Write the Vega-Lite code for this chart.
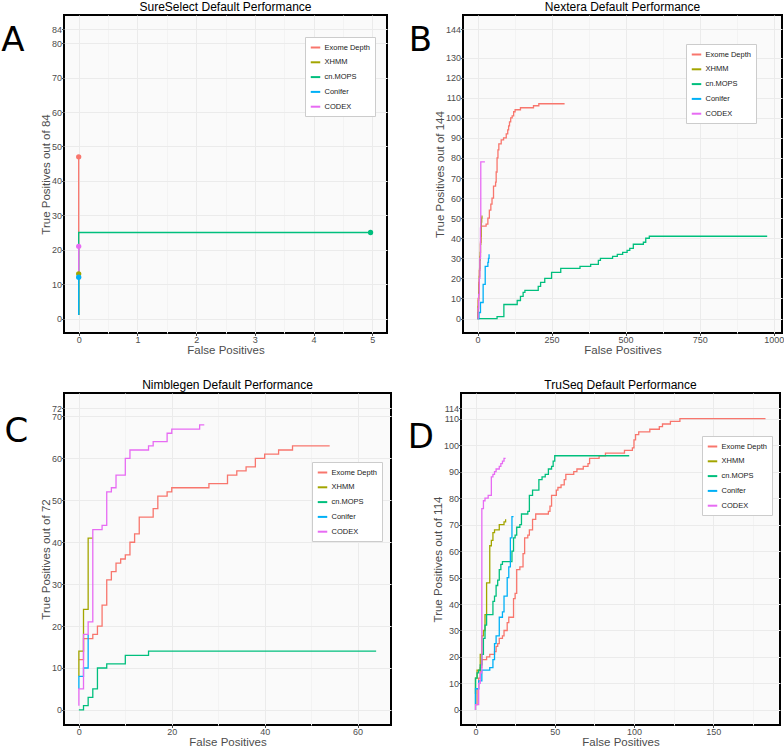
{
"$schema":"https://vega.github.io/schema/vega-lite/v6.json",
"padding":{"left":0,"top":0,"right":0,"bottom":0},
"background":"white",
"config":{
 "font":"Liberation Sans",
 "view":{"stroke":"black","strokeWidth":2,"fill":"#FAFAFA"},
 "title":{"fontSize":12,"fontWeight":"normal","color":"black","offset":1},
 "axis":{"labelColor":"#4D4D4D","labelFontSize":9,"titleColor":"#4D4D4D","titleFontSize":11.5,"titleFontWeight":"normal","tickColor":"#4D4D4D","tickSize":2.5,"domain":false,"gridColor":"#EBEBEB","labelPadding":0,"titlePadding":0,"labelOverlap":false,"labelFlush":false,"format":"d","tickCount":100},
 "legend":{"orient":"none","fillColor":"white","strokeColor":"#CCCCCC","padding":4.5,"symbolType":"stroke","symbolStrokeWidth":2,"symbolSize":90,"labelFontSize":7.5,"labelColor":"#1A1A1A","rowPadding":4.8,"labelOffset":3}
},
"datasets":{
"A":[
{"method":"Exome Depth","fp":0,"tp":1},{"method":"Exome Depth","fp":0,"tp":47},
{"method":"XHMM","fp":0,"tp":1},{"method":"XHMM","fp":0,"tp":13},
{"method":"cn.MOPS","fp":0,"tp":1},{"method":"cn.MOPS","fp":0,"tp":25},{"method":"cn.MOPS","fp":5,"tp":25},
{"method":"Conifer","fp":0,"tp":1},{"method":"Conifer","fp":0,"tp":12},
{"method":"CODEX","fp":0,"tp":12},{"method":"CODEX","fp":0,"tp":21}],
"Apts":[
{"method":"Exome Depth","fp":0,"tp":47},{"method":"XHMM","fp":0,"tp":13},{"method":"cn.MOPS","fp":4.97,"tp":25},{"method":"Conifer","fp":0,"tp":12},{"method":"CODEX","fp":0,"tp":21}],
"B":[
{"method":"Exome Depth","fp":0,"tp":0},{"method":"Exome Depth","fp":1,"tp":3},{"method":"Exome Depth","fp":2,"tp":10},{"method":"Exome Depth","fp":4,"tp":18},{"method":"Exome Depth","fp":6,"tp":24},{"method":"Exome Depth","fp":8,"tp":31},{"method":"Exome Depth","fp":10,"tp":38},{"method":"Exome Depth","fp":12,"tp":46},{"method":"Exome Depth","fp":29,"tp":47},{"method":"Exome Depth","fp":35,"tp":50},{"method":"Exome Depth","fp":40,"tp":54},{"method":"Exome Depth","fp":45,"tp":57},{"method":"Exome Depth","fp":49,"tp":60},{"method":"Exome Depth","fp":54,"tp":66},{"method":"Exome Depth","fp":61,"tp":68},{"method":"Exome Depth","fp":63,"tp":73},{"method":"Exome Depth","fp":66,"tp":80},{"method":"Exome Depth","fp":69,"tp":84},{"method":"Exome Depth","fp":72,"tp":87},{"method":"Exome Depth","fp":80,"tp":89},{"method":"Exome Depth","fp":88,"tp":90},{"method":"Exome Depth","fp":97,"tp":92},{"method":"Exome Depth","fp":102,"tp":94},{"method":"Exome Depth","fp":105,"tp":96},{"method":"Exome Depth","fp":108,"tp":98},{"method":"Exome Depth","fp":112,"tp":100},{"method":"Exome Depth","fp":117,"tp":101},{"method":"Exome Depth","fp":122,"tp":103},{"method":"Exome Depth","fp":127,"tp":104},{"method":"Exome Depth","fp":145,"tp":105},{"method":"Exome Depth","fp":189,"tp":106},{"method":"Exome Depth","fp":207,"tp":107},{"method":"Exome Depth","fp":294,"tp":107},
{"method":"XHMM","fp":0,"tp":0},{"method":"XHMM","fp":1,"tp":3},{"method":"XHMM","fp":2,"tp":6},{"method":"XHMM","fp":3,"tp":9},{"method":"XHMM","fp":4,"tp":13},{"method":"XHMM","fp":5,"tp":17},{"method":"XHMM","fp":6,"tp":21},{"method":"XHMM","fp":7,"tp":25},{"method":"XHMM","fp":8,"tp":29},{"method":"XHMM","fp":9,"tp":33},{"method":"XHMM","fp":10,"tp":37},{"method":"XHMM","fp":11,"tp":41},{"method":"XHMM","fp":12,"tp":45},{"method":"XHMM","fp":13,"tp":48},{"method":"XHMM","fp":14,"tp":50},{"method":"XHMM","fp":15,"tp":51},{"method":"XHMM","fp":17,"tp":51},
{"method":"cn.MOPS","fp":0,"tp":0},{"method":"cn.MOPS","fp":66,"tp":1},{"method":"cn.MOPS","fp":89,"tp":7},{"method":"cn.MOPS","fp":134,"tp":9},{"method":"cn.MOPS","fp":145,"tp":11},{"method":"cn.MOPS","fp":154,"tp":13},{"method":"cn.MOPS","fp":160,"tp":14},{"method":"cn.MOPS","fp":205,"tp":16},{"method":"cn.MOPS","fp":213,"tp":18},{"method":"cn.MOPS","fp":227,"tp":20},{"method":"cn.MOPS","fp":250,"tp":23},{"method":"cn.MOPS","fp":281,"tp":25},{"method":"cn.MOPS","fp":346,"tp":26},{"method":"cn.MOPS","fp":382,"tp":27},{"method":"cn.MOPS","fp":408,"tp":29},{"method":"cn.MOPS","fp":415,"tp":30},{"method":"cn.MOPS","fp":456,"tp":31},{"method":"cn.MOPS","fp":472,"tp":32},{"method":"cn.MOPS","fp":490,"tp":33},{"method":"cn.MOPS","fp":505,"tp":34},{"method":"cn.MOPS","fp":514,"tp":35},{"method":"cn.MOPS","fp":526,"tp":37},{"method":"cn.MOPS","fp":560,"tp":38},{"method":"cn.MOPS","fp":568,"tp":40},{"method":"cn.MOPS","fp":580,"tp":41},{"method":"cn.MOPS","fp":978,"tp":41},
{"method":"Conifer","fp":0,"tp":0},{"method":"Conifer","fp":5,"tp":3},{"method":"Conifer","fp":10,"tp":8},{"method":"Conifer","fp":19,"tp":17},{"method":"Conifer","fp":26,"tp":26},{"method":"Conifer","fp":35,"tp":28},{"method":"Conifer","fp":37,"tp":30},{"method":"Conifer","fp":39,"tp":32},
{"method":"CODEX","fp":0,"tp":0},{"method":"CODEX","fp":2,"tp":5},{"method":"CODEX","fp":4,"tp":12},{"method":"CODEX","fp":6,"tp":20},{"method":"CODEX","fp":8,"tp":30},{"method":"CODEX","fp":10,"tp":45},{"method":"CODEX","fp":11,"tp":78},{"method":"CODEX","fp":25,"tp":78}],
"C":[
{"method":"Exome Depth","fp":0,"tp":12},{"method":"Exome Depth","fp":1,"tp":17},{"method":"Exome Depth","fp":3,"tp":18},{"method":"Exome Depth","fp":4,"tp":20},{"method":"Exome Depth","fp":5,"tp":25},{"method":"Exome Depth","fp":6,"tp":31},{"method":"Exome Depth","fp":7,"tp":33},{"method":"Exome Depth","fp":8,"tp":35},{"method":"Exome Depth","fp":9,"tp":36},{"method":"Exome Depth","fp":10,"tp":37},{"method":"Exome Depth","fp":11,"tp":40},{"method":"Exome Depth","fp":12,"tp":42},{"method":"Exome Depth","fp":13,"tp":46},{"method":"Exome Depth","fp":16,"tp":48},{"method":"Exome Depth","fp":17,"tp":51},{"method":"Exome Depth","fp":19,"tp":52},{"method":"Exome Depth","fp":20,"tp":53},{"method":"Exome Depth","fp":28,"tp":54},{"method":"Exome Depth","fp":32,"tp":56},{"method":"Exome Depth","fp":34,"tp":57},{"method":"Exome Depth","fp":36,"tp":58},{"method":"Exome Depth","fp":38,"tp":60},{"method":"Exome Depth","fp":40,"tp":61},{"method":"Exome Depth","fp":43,"tp":62},{"method":"Exome Depth","fp":46,"tp":63},{"method":"Exome Depth","fp":54,"tp":63},
{"method":"XHMM","fp":0,"tp":8},{"method":"XHMM","fp":0,"tp":14},{"method":"XHMM","fp":1,"tp":24},{"method":"XHMM","fp":2,"tp":41},{"method":"XHMM","fp":3,"tp":41},
{"method":"cn.MOPS","fp":0,"tp":0},{"method":"cn.MOPS","fp":1,"tp":1},{"method":"cn.MOPS","fp":2,"tp":3},{"method":"cn.MOPS","fp":3,"tp":5},{"method":"cn.MOPS","fp":4,"tp":10},{"method":"cn.MOPS","fp":6,"tp":11},{"method":"cn.MOPS","fp":10,"tp":13},{"method":"cn.MOPS","fp":15,"tp":14},{"method":"cn.MOPS","fp":64,"tp":14},
{"method":"Conifer","fp":0,"tp":5},{"method":"Conifer","fp":0,"tp":8},{"method":"Conifer","fp":1,"tp":10},{"method":"Conifer","fp":2,"tp":18},
{"method":"CODEX","fp":0,"tp":1},{"method":"CODEX","fp":0,"tp":5},{"method":"CODEX","fp":1,"tp":18},{"method":"CODEX","fp":2,"tp":21},{"method":"CODEX","fp":3,"tp":43},{"method":"CODEX","fp":5,"tp":44},{"method":"CODEX","fp":6,"tp":52},{"method":"CODEX","fp":7,"tp":53},{"method":"CODEX","fp":8,"tp":56},{"method":"CODEX","fp":10,"tp":60},{"method":"CODEX","fp":11,"tp":62},{"method":"CODEX","fp":15,"tp":63},{"method":"CODEX","fp":16,"tp":64},{"method":"CODEX","fp":19,"tp":66},{"method":"CODEX","fp":20,"tp":67},{"method":"CODEX","fp":26,"tp":68},{"method":"CODEX","fp":27,"tp":68}],
"D":[
{"method":"Exome Depth","fp":0,"tp":2},{"method":"Exome Depth","fp":1,"tp":8},{"method":"Exome Depth","fp":2,"tp":12},{"method":"Exome Depth","fp":3,"tp":16},{"method":"Exome Depth","fp":4,"tp":19},{"method":"Exome Depth","fp":7,"tp":20},{"method":"Exome Depth","fp":9,"tp":21},{"method":"Exome Depth","fp":12,"tp":22},{"method":"Exome Depth","fp":13,"tp":24},{"method":"Exome Depth","fp":14,"tp":25},{"method":"Exome Depth","fp":15,"tp":27},{"method":"Exome Depth","fp":17,"tp":28},{"method":"Exome Depth","fp":18,"tp":30},{"method":"Exome Depth","fp":20,"tp":33},{"method":"Exome Depth","fp":21,"tp":35},{"method":"Exome Depth","fp":24,"tp":42},{"method":"Exome Depth","fp":25,"tp":44},{"method":"Exome Depth","fp":26,"tp":53},{"method":"Exome Depth","fp":28,"tp":54},{"method":"Exome Depth","fp":30,"tp":59},{"method":"Exome Depth","fp":31,"tp":65},{"method":"Exome Depth","fp":33,"tp":66},{"method":"Exome Depth","fp":34,"tp":68},{"method":"Exome Depth","fp":36,"tp":72},{"method":"Exome Depth","fp":38,"tp":74},{"method":"Exome Depth","fp":46,"tp":75},{"method":"Exome Depth","fp":47,"tp":77},{"method":"Exome Depth","fp":48,"tp":81},{"method":"Exome Depth","fp":51,"tp":83},{"method":"Exome Depth","fp":52,"tp":84},{"method":"Exome Depth","fp":54,"tp":85},{"method":"Exome Depth","fp":56,"tp":87},{"method":"Exome Depth","fp":57,"tp":89},{"method":"Exome Depth","fp":62,"tp":90},{"method":"Exome Depth","fp":64,"tp":91},{"method":"Exome Depth","fp":68,"tp":92},{"method":"Exome Depth","fp":71,"tp":93},{"method":"Exome Depth","fp":72,"tp":95},{"method":"Exome Depth","fp":78,"tp":96},{"method":"Exome Depth","fp":82,"tp":97},{"method":"Exome Depth","fp":94,"tp":98},{"method":"Exome Depth","fp":99,"tp":99},{"method":"Exome Depth","fp":100,"tp":102},{"method":"Exome Depth","fp":101,"tp":104},{"method":"Exome Depth","fp":103,"tp":105},{"method":"Exome Depth","fp":110,"tp":106},{"method":"Exome Depth","fp":116,"tp":107},{"method":"Exome Depth","fp":118,"tp":108},{"method":"Exome Depth","fp":123,"tp":109},{"method":"Exome Depth","fp":129,"tp":110},{"method":"Exome Depth","fp":183,"tp":110},
{"method":"XHMM","fp":0,"tp":6},{"method":"XHMM","fp":0,"tp":12},{"method":"XHMM","fp":1,"tp":15},{"method":"XHMM","fp":3,"tp":21},{"method":"XHMM","fp":4,"tp":28},{"method":"XHMM","fp":5,"tp":30},{"method":"XHMM","fp":6,"tp":36},{"method":"XHMM","fp":7,"tp":48},{"method":"XHMM","fp":9,"tp":62},{"method":"XHMM","fp":10,"tp":64},{"method":"XHMM","fp":11,"tp":67},{"method":"XHMM","fp":12,"tp":68},{"method":"XHMM","fp":15,"tp":70},{"method":"XHMM","fp":18,"tp":71},{"method":"XHMM","fp":19,"tp":72},
{"method":"cn.MOPS","fp":0,"tp":0},{"method":"cn.MOPS","fp":0,"tp":12},{"method":"cn.MOPS","fp":1,"tp":14},{"method":"cn.MOPS","fp":2,"tp":15},{"method":"cn.MOPS","fp":3,"tp":17},{"method":"cn.MOPS","fp":4,"tp":21},{"method":"cn.MOPS","fp":5,"tp":27},{"method":"cn.MOPS","fp":6,"tp":32},{"method":"cn.MOPS","fp":7,"tp":36},{"method":"cn.MOPS","fp":11,"tp":41},{"method":"cn.MOPS","fp":12,"tp":43},{"method":"cn.MOPS","fp":13,"tp":47},{"method":"cn.MOPS","fp":14,"tp":49},{"method":"cn.MOPS","fp":15,"tp":53},{"method":"cn.MOPS","fp":16,"tp":55},{"method":"cn.MOPS","fp":17,"tp":56},{"method":"cn.MOPS","fp":23,"tp":60},{"method":"cn.MOPS","fp":24,"tp":65},{"method":"cn.MOPS","fp":25,"tp":66},{"method":"cn.MOPS","fp":26,"tp":69},{"method":"cn.MOPS","fp":28,"tp":70},{"method":"cn.MOPS","fp":29,"tp":74},{"method":"cn.MOPS","fp":33,"tp":75},{"method":"cn.MOPS","fp":34,"tp":81},{"method":"cn.MOPS","fp":36,"tp":83},{"method":"cn.MOPS","fp":40,"tp":87},{"method":"cn.MOPS","fp":42,"tp":88},{"method":"cn.MOPS","fp":44,"tp":89},{"method":"cn.MOPS","fp":46,"tp":91},{"method":"cn.MOPS","fp":48,"tp":92},{"method":"cn.MOPS","fp":49,"tp":94},{"method":"cn.MOPS","fp":50,"tp":96},{"method":"cn.MOPS","fp":97,"tp":96},
{"method":"Conifer","fp":0,"tp":2},{"method":"Conifer","fp":0,"tp":8},{"method":"Conifer","fp":2,"tp":11},{"method":"Conifer","fp":4,"tp":15},{"method":"Conifer","fp":9,"tp":16},{"method":"Conifer","fp":11,"tp":19},{"method":"Conifer","fp":12,"tp":25},{"method":"Conifer","fp":13,"tp":28},{"method":"Conifer","fp":15,"tp":35},{"method":"Conifer","fp":17,"tp":37},{"method":"Conifer","fp":18,"tp":43},{"method":"Conifer","fp":20,"tp":50},{"method":"Conifer","fp":21,"tp":54},{"method":"Conifer","fp":22,"tp":65},{"method":"Conifer","fp":23,"tp":73},{"method":"Conifer","fp":24,"tp":73},
{"method":"CODEX","fp":0,"tp":0},{"method":"CODEX","fp":0,"tp":2},{"method":"CODEX","fp":2,"tp":10},{"method":"CODEX","fp":3,"tp":14},{"method":"CODEX","fp":4,"tp":76},{"method":"CODEX","fp":5,"tp":79},{"method":"CODEX","fp":6,"tp":80},{"method":"CODEX","fp":8,"tp":81},{"method":"CODEX","fp":10,"tp":82},{"method":"CODEX","fp":10,"tp":88},{"method":"CODEX","fp":11,"tp":89},{"method":"CODEX","fp":12,"tp":90},{"method":"CODEX","fp":13,"tp":91},{"method":"CODEX","fp":15,"tp":92},{"method":"CODEX","fp":16,"tp":93},{"method":"CODEX","fp":17,"tp":94},{"method":"CODEX","fp":18,"tp":95},{"method":"CODEX","fp":19,"tp":95}]
},
"spacing":21,
"resolve":{"legend":{"color":"independent"}},
"vconcat":[
{"spacing":19,"resolve":{"legend":{"color":"independent"}},"hconcat":[
 {"width":323,"height":318,"title":"SureSelect Default Performance","layer":[
  {"data":{"name":"A"},"mark":{"type":"line","interpolate":"step-after","strokeWidth":1.3},
   "encoding":{
    "x":{"field":"fp","type":"quantitative","scale":{"domain":[-0.25,5.25],"nice":false,"zero":false},"axis":{"title":"False Positives","tickCount":100,"labelOverlap":false,"values":[0,0.5,1,1.5,2,2.5,3,3.5,4,4.5,5],"labelExpr":"datum.value % 1 == 0 ? datum.label : ''","tickOpacity":{"condition":{"test":"datum.value % 1 != 0","value":0},"value":1},"gridColor":{"condition":{"test":"datum.value % 1 != 0","value":"#F3F3F3"},"value":"#EBEBEB"}}},
    "y":{"field":"tp","type":"quantitative","scale":{"domain":[-4.2,88.2],"nice":false,"zero":false},"axis":{"title":"True Positives out of 84","tickCount":100,"labelOverlap":false,"values":[0,10,20,30,40,50,60,70,80,84]}},
    "color":{"field":"method","type":"nominal","scale":{"domain":["Exome Depth","XHMM","cn.MOPS","Conifer","CODEX"],"range":["#F8766D","#A3A500","#00BF7D","#00B0F6","#E76BF3"]},"legend":{"title":null,"legendX":241,"legendY":22}},
    "order":{"value":null}}},
  {"data":{"name":"Apts"},"mark":{"type":"circle","size":28,"opacity":1},
   "encoding":{"x":{"field":"fp","type":"quantitative"},"y":{"field":"tp","type":"quantitative"},"color":{"field":"method","type":"nominal"}}},
  {"data":{"values":[{"label":"A"}]},"mark":{"type":"text","font":"DejaVu Sans","fontSize":34,"align":"left","baseline":"alphabetic","color":"black"},
   "encoding":{"x":{"datum":-1.32},"y":{"datum":77.8},"text":{"field":"label"}}}
 ]},
 {"width":319,"height":318,"title":"Nextera Default Performance","layer":[
  {"data":{"name":"B"},"mark":{"type":"line","interpolate":"step-after","strokeWidth":1.3},
   "encoding":{
    "x":{"field":"fp","type":"quantitative","scale":{"domain":[-49,1028],"nice":false,"zero":false},"axis":{"title":"False Positives","tickCount":100,"labelOverlap":false,"values":[0,125,250,375,500,625,750,875,1000],"labelExpr":"datum.value % 250 == 0 ? datum.label : ''","tickOpacity":{"condition":{"test":"datum.value % 250 != 0","value":0},"value":1},"gridColor":{"condition":{"test":"datum.value % 250 != 0","value":"#F3F3F3"},"value":"#EBEBEB"}}},
    "y":{"field":"tp","type":"quantitative","scale":{"domain":[-7.2,151.2],"nice":false,"zero":false},"axis":{"title":"True Positives out of 144","tickCount":100,"labelOverlap":false,"values":[0,10,20,30,40,50,60,70,80,90,100,110,120,130,144]}},
    "color":{"field":"method","type":"nominal","scale":{"domain":["Exome Depth","XHMM","cn.MOPS","Conifer","CODEX"],"range":["#F8766D","#A3A500","#00BF7D","#00B0F6","#E76BF3"]},"legend":{"title":null,"legendX":223,"legendY":29}},
    "order":{"value":null}}},
  {"data":{"values":[{"label":"B"}]},"mark":{"type":"text","font":"DejaVu Sans","fontSize":34,"align":"left","baseline":"alphabetic","color":"black"},
   "encoding":{"x":{"datum":-232},"y":{"datum":133.4},"text":{"field":"label"}}}
 ]}
]},
{"spacing":14,"resolve":{"legend":{"color":"independent"}},"hconcat":[
 {"width":327,"height":332,"title":"Nimblegen Default Performance","layer":[
  {"data":{"name":"C"},"mark":{"type":"line","interpolate":"step-after","strokeWidth":1.3},
   "encoding":{
    "x":{"field":"fp","type":"quantitative","scale":{"domain":[-3.2,67.2],"nice":false,"zero":false},"axis":{"title":"False Positives","tickCount":100,"labelOverlap":false,"values":[0,10,20,30,40,50,60],"labelExpr":"datum.value % 20 == 0 ? datum.label : ''","tickOpacity":{"condition":{"test":"datum.value % 20 != 0","value":0},"value":1},"gridColor":{"condition":{"test":"datum.value % 20 != 0","value":"#F3F3F3"},"value":"#EBEBEB"}}},
    "y":{"field":"tp","type":"quantitative","scale":{"domain":[-3.6,75.6],"nice":false,"zero":false},"axis":{"title":"True Positives out of 72","tickCount":100,"labelOverlap":false,"values":[0,10,20,30,40,50,60,70,72]}},
    "color":{"field":"method","type":"nominal","scale":{"domain":["Exome Depth","XHMM","cn.MOPS","Conifer","CODEX"],"range":["#F8766D","#A3A500","#00BF7D","#00B0F6","#E76BF3"]},"legend":{"title":null,"legendX":248,"legendY":69}},
    "order":{"value":null}}},
  {"data":{"values":[{"label":"C"}]},"mark":{"type":"text","font":"DejaVu Sans","fontSize":34,"align":"left","baseline":"alphabetic","color":"black"},
   "encoding":{"x":{"datum":-16},"y":{"datum":64},"text":{"field":"label"}}}
 ]},
 {"width":319,"height":332,"title":"TruSeq Default Performance","layer":[
  {"data":{"name":"D"},"mark":{"type":"line","interpolate":"step-after","strokeWidth":1.3},
   "encoding":{
    "x":{"field":"fp","type":"quantitative","scale":{"domain":[-9.15,192.15],"nice":false,"zero":false},"axis":{"title":"False Positives","tickCount":100,"labelOverlap":false,"values":[0,25,50,75,100,125,150,175],"labelExpr":"datum.value % 50 == 0 ? datum.label : ''","tickOpacity":{"condition":{"test":"datum.value % 50 != 0","value":0},"value":1},"gridColor":{"condition":{"test":"datum.value % 50 != 0","value":"#F3F3F3"},"value":"#EBEBEB"}}},
    "y":{"field":"tp","type":"quantitative","scale":{"domain":[-5.7,119.7],"nice":false,"zero":false},"axis":{"title":"True Positives out of 114","tickCount":100,"labelOverlap":false,"values":[0,10,20,30,40,50,60,70,80,90,100,110,114]}},
    "color":{"field":"method","type":"nominal","scale":{"domain":["Exome Depth","XHMM","cn.MOPS","Conifer","CODEX"],"range":["#F8766D","#A3A500","#00BF7D","#00B0F6","#E76BF3"]},"legend":{"title":null,"legendX":241,"legendY":43}},
    "order":{"value":null}}},
  {"data":{"values":[{"label":"D"}]},"mark":{"type":"text","font":"DejaVu Sans","fontSize":34,"align":"left","baseline":"alphabetic","color":"black"},
   "encoding":{"x":{"datum":-42.7},"y":{"datum":99},"text":{"field":"label"}}}
 ]}
]}
]
}
